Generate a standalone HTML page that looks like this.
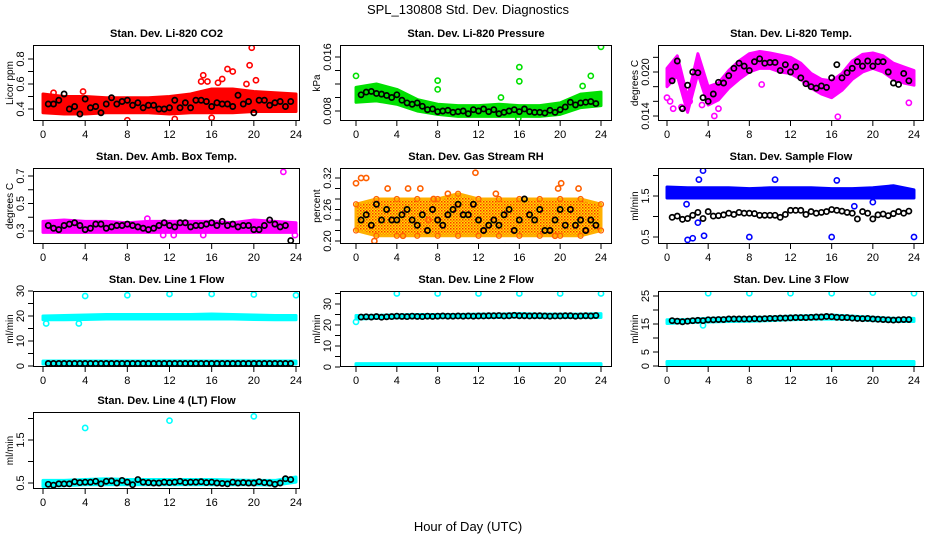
<!DOCTYPE html>
<html><head><meta charset="utf-8">
<style>
html,body{margin:0;padding:0;background:#fff;}
svg{display:block;font-family:"Liberation Sans",Arial,sans-serif;}
.t{font-weight:bold;font-size:11px;text-anchor:middle;}
.tk{font-size:11px;text-anchor:middle;}
.yl{font-size:10px;text-anchor:middle;}
</style></head>
<body>
<svg id="fig" width="936" height="540" viewBox="0 0 936 540">
<defs>
<pattern id="rhpat" width="3" height="3" patternUnits="userSpaceOnUse">
<rect width="3" height="3" fill="#ffe000"/>
<rect x="0" y="0" width="1.5" height="1.5" fill="#ff3000"/>
<rect x="1.5" y="1.5" width="1.5" height="1.5" fill="#ff8000"/>
</pattern>
</defs>
<text x="468" y="14" font-size="13" text-anchor="middle">SPL_130808  Std. Dev. Diagnostics</text>
<text x="468" y="531" font-size="13" text-anchor="middle">Hour of Day (UTC)</text>
</svg>
<script>
// ---- data ----
const bandH = [0,2,4,6,8,10,12,14,16,18,20,22,24];
const tempH = [0,1,2,3,4,5,6,7,8,9,10,11,12,13,14,15,16,17,18,19,20,21,22,23,24];

const co2Lo = [0.37,0.36,0.36,0.37,0.37,0.37,0.36,0.37,0.37,0.37,0.38,0.38,0.38];
const co2Hi = [0.52,0.50,0.50,0.49,0.49,0.49,0.50,0.52,0.56,0.56,0.54,0.53,0.52];
const co2OutH = [1,3.8,8,12.5,15,15.2,15.6,16,16.6,17,17.5,18,19.3,19.6,19.8,20.2];
const co2OutV = [0.53,0.54,0.31,0.32,0.62,0.67,0.62,0.33,0.61,0.64,0.72,0.70,0.60,0.75,0.89,0.63];
const co2Blk = [0.44,0.44,0.47,0.52,0.40,0.42,0.36,0.48,0.41,0.42,0.37,0.44,0.49,0.44,0.46,0.47,0.43,0.45,0.41,0.43,0.43,0.40,0.40,0.41,0.47,0.41,0.45,0.41,0.47,0.47,0.46,0.42,0.45,0.44,0.44,0.42,0.51,0.44,0.46,0.37,0.47,0.47,0.43,0.45,0.46,0.42,0.46];

const prLo = [0.0093,0.0095,0.0090,0.0080,0.0075,0.0072,0.0072,0.0072,0.0072,0.0072,0.0075,0.0085,0.0088];
const prHi = [0.0115,0.0120,0.0112,0.0097,0.0090,0.0088,0.0088,0.0090,0.0088,0.0088,0.0092,0.0105,0.0108];
const prOutH = [0,4,8,8,12,14.2,16,16,20,22.2,23,24,15.9];
const prOutV = [0.0132,0.0185,0.0125,0.0112,0.0185,0.0100,0.0145,0.0124,0.0185,0.0117,0.0132,0.0175,0.0069];
const prBlk = [0.0104,0.0108,0.0109,0.0106,0.0105,0.0103,0.0100,0.0104,0.0096,0.0092,0.0090,0.0092,0.0087,0.0082,0.0083,0.0079,0.0080,0.0081,0.0078,0.0079,0.0080,0.0076,0.0082,0.0080,0.0083,0.0079,0.0082,0.0076,0.0078,0.0080,0.0082,0.0079,0.0083,0.0079,0.0078,0.0078,0.0077,0.0081,0.0078,0.0082,0.0086,0.0093,0.0089,0.0092,0.0093,0.0094,0.0091];

const tpLo = [0.0180,0.0195,0.0145,0.0198,0.0155,0.0162,0.0178,0.0190,0.0200,0.0205,0.0205,0.0200,0.0198,0.0190,0.0178,0.0170,0.0165,0.0175,0.0190,0.0200,0.0205,0.0200,0.0190,0.0185,0.0182];
const tpHi = [0.0205,0.0222,0.0165,0.0225,0.0180,0.0185,0.0202,0.0215,0.0225,0.0228,0.0226,0.0223,0.0220,0.0212,0.0198,0.0190,0.0188,0.0198,0.0215,0.0224,0.0226,0.0222,0.0212,0.0207,0.0202];
const tpOutH = [0,0.3,0.6,1.4,2.2,3.4,4.6,5,9.2,16.6,23.5];
const tpOutV = [0.0165,0.0160,0.0150,0.0152,0.0160,0.0155,0.0140,0.0150,0.0183,0.0139,0.0158];
const tpBlk = [0.0188,0.0215,0.0150,0.0182,0.0200,0.0199,0.0165,0.0160,0.0170,0.0186,0.0185,0.0195,0.0205,0.0212,0.0208,0.0202,0.0214,0.0218,0.0212,0.0213,0.0213,0.0202,0.0210,0.0200,0.0207,0.0192,0.0184,0.0180,0.0178,0.0181,0.0179,0.0192,0.0210,0.0192,0.0199,0.0205,0.0214,0.0208,0.0215,0.0208,0.0214,0.0214,0.0200,0.0185,0.0183,0.0198,0.0188];

const abLo = [0.29,0.29,0.29,0.29,0.29,0.29,0.29,0.29,0.29,0.29,0.29,0.29,0.29];
const abHi = [0.37,0.38,0.37,0.37,0.36,0.37,0.37,0.37,0.37,0.36,0.38,0.37,0.36];
const abOutH = [9.9,11.4,12.4,15.2,22.8,23.9];
const abOutV = [0.39,0.27,0.27,0.27,0.73,0.27];
const abBlk = [0.34,0.32,0.31,0.34,0.35,0.36,0.34,0.31,0.32,0.35,0.35,0.32,0.33,0.34,0.34,0.35,0.34,0.33,0.32,0.31,0.32,0.34,0.36,0.34,0.33,0.36,0.36,0.33,0.34,0.34,0.35,0.36,0.34,0.37,0.34,0.35,0.33,0.34,0.34,0.31,0.31,0.34,0.38,0.35,0.33,0.34,0.23];

const rhLo = [0.22,0.21,0.21,0.21,0.21,0.21,0.21,0.21,0.21,0.21,0.21,0.21,0.22];
const rhHi = [0.27,0.28,0.28,0.28,0.28,0.29,0.28,0.28,0.28,0.28,0.28,0.28,0.27];
const rhOutH = [0,0.5,1,1.8,3.1,4.6,5.1,6.3,7.1,7.6,9,11.7,13.7,14.6,19.5,19.8,20.1,21.8,22.6];
const rhOutV = [0.31,0.32,0.32,0.20,0.30,0.21,0.30,0.30,0.24,0.28,0.29,0.33,0.29,0.19,0.21,0.30,0.31,0.30,0.22];
const rhBlk = [0.24,0.25,0.23,0.27,0.24,0.26,0.24,0.24,0.25,0.26,0.24,0.23,0.25,0.22,0.26,0.24,0.23,0.25,0.26,0.27,0.25,0.25,0.27,0.24,0.22,0.23,0.24,0.23,0.25,0.26,0.22,0.24,0.28,0.25,0.24,0.26,0.22,0.22,0.24,0.26,0.23,0.26,0.23,0.24,0.22,0.24,0.23];

const sfLo = [1.45,1.45,1.45,1.45,1.45,1.45,1.45,1.45,1.45,1.45,1.45,1.45,1.45];
const sfHi = [1.72,1.70,1.70,1.70,1.68,1.70,1.70,1.70,1.68,1.68,1.70,1.75,1.65];
const sfOutH = [2,2.5,3,3.1,3.5,3.6,8,10.5,16,16.5,1.9,20,24,18.2];
const sfOutV = [0.43,0.47,0.85,1.9,2.12,0.53,0.5,1.9,0.5,1.88,1.3,1.35,0.5,1.25];
const sfBlk = [0.98,1.01,0.93,0.95,1.03,1.10,0.95,1.12,1.01,1.02,1.04,1.08,1.05,1.10,1.08,1.08,1.07,1.03,1.03,1.03,1.03,0.98,1.05,1.15,1.15,1.15,1.05,1.12,1.08,1.10,1.12,1.17,1.15,1.13,1.10,1.08,0.94,1.12,1.08,0.94,1.04,1.06,1.02,1.07,1.12,1.08,1.13];

const l1Lo = [18.5,18.5,18.6,18.8,18.8,18.8,18.8,18.8,18.8,18.8,18.6,18.5,18.5];
const l1Hi = [20.0,20.2,20.4,20.6,20.6,20.6,20.6,20.6,20.8,20.6,20.4,20.2,20.2];
const l1Lo2 = [0.8,0.8,0.8,0.8,0.8,0.8,0.8,0.8,0.8,0.8,0.8,0.8,0.8];
const l1Hi2 = [2.0,2.0,2.0,2.0,2.0,2.0,2.0,2.0,2.0,2.0,2.0,2.0,2.0];
const l1OutH = [4,8,12,16,20,24,0.3,3.4];
const l1OutV = [28,28.3,28.8,28.8,28.6,28.3,17,17];
const l1Blk = [1,1,1,1,1,1,1,1,1,1,1,1,1,1,1,1,1,1,1,1,1,1,1,1,1,1,1,1,1,1,1,1,1,1,1,1,1,1,1,1,1,1,1,1,1,1,1];

const l2Lo = [22.8,23.2,23.4,23.5,23.5,23.6,23.6,23.6,23.8,23.6,23.6,23.6,23.6];
const l2Hi = [24.5,24.6,24.8,25.0,25.0,25.0,25.2,25.2,25.4,25.2,25.2,25.2,25.4];
const l2Lo2 = [0.5,0.5,0.5,0.5,0.5,0.5,0.5,0.5,0.5,0.5,0.5,0.5,0.5];
const l2Hi2 = [1.6,1.6,1.6,1.6,1.6,1.6,1.6,1.6,1.6,1.6,1.6,1.6,1.6];
const l2OutH = [4,8,12,16,20,24,0];
const l2OutV = [35,35,35,35,35,35,21.5];
const l2Blk = [23.8,23.9,23.8,24.0,23.7,23.9,24.0,24.2,24.1,24.0,24.2,24.1,24.0,24.2,24.1,24.2,24.3,24.2,24.2,24.3,24.2,24.3,24.2,24.3,24.3,24.4,24.4,24.5,24.3,24.4,24.6,24.4,24.4,24.3,24.4,24.4,24.3,24.2,24.3,24.3,24.4,24.4,24.2,24.3,24.4,24.3,24.5];

const l3Lo = [15.2,15.5,15.7,15.9,16.0,16.2,16.5,16.7,16.8,16.6,16.2,15.9,15.9];
const l3Hi = [16.5,16.6,17.0,17.2,17.3,17.5,17.8,18.0,18.2,17.8,17.4,17.0,17.0];
const l3Lo2 = [0.5,0.5,0.5,0.5,0.5,0.5,0.5,0.5,0.5,0.5,0.5,0.5,0.5];
const l3Hi2 = [1.6,1.6,1.6,1.6,1.6,1.6,1.6,1.6,1.6,1.6,1.6,1.6,1.6];
const l3OutH = [4,8,12,16,20,24,3.5];
const l3OutV = [26,26,26,26,26.2,26,14.5];
const l3Blk = [16.2,16.0,15.8,16.0,16.2,16.3,16.2,16.5,16.5,16.6,16.6,16.8,16.8,16.8,16.8,16.8,16.9,16.8,16.9,17.0,17.0,17.1,17.1,17.2,17.3,17.3,17.3,17.4,17.5,17.5,17.7,17.6,17.4,17.3,17.3,17.1,17.0,16.9,17.0,16.8,16.7,16.6,16.5,16.4,16.5,16.6,16.6];

const l4Lo = [0.42,0.44,0.46,0.46,0.46,0.46,0.46,0.46,0.46,0.46,0.46,0.45,0.52];
const l4Hi = [0.56,0.56,0.58,0.60,0.58,0.58,0.58,0.58,0.58,0.57,0.56,0.56,0.64];
const l4OutH = [4,12,20];
const l4OutV = [1.78,1.95,2.05];
const l4Blk = [0.47,0.45,0.48,0.48,0.48,0.53,0.51,0.52,0.52,0.54,0.48,0.54,0.55,0.50,0.56,0.52,0.46,0.58,0.52,0.51,0.50,0.50,0.52,0.51,0.52,0.54,0.51,0.52,0.52,0.53,0.51,0.52,0.50,0.49,0.48,0.52,0.50,0.51,0.50,0.50,0.53,0.51,0.50,0.47,0.50,0.60,0.58];

// ---- layout (non-data) ----
const COLS = [{l:33,r:300,x0:43,x24:296},{l:340,r:612,x0:356,x24:601},{l:658,r:924,x0:667,x24:914}];
const ROWS = [{t:45,b:121},{t:168,b:244},{t:291,b:367},{t:412,b:489}];

const panels = [
 {name:'co2',title:'Stan. Dev. Li-820 CO2',ylab:'Licor ppm',c:0,r:0,v0:0.4,p0:109,v1:0.8,p1:59,ticks:[0.4,0.5,0.6,0.7,0.8],labs:['0.4','0.6','0.8'],col:'#ff0000',lo:co2Lo,hi:co2Hi,oh:co2OutH,ov:co2OutV,blk:co2Blk},
 {name:'pressure',title:'Stan. Dev. Li-820 Pressure',ylab:'kPa',c:1,r:0,v0:0.008,p0:111,v1:0.016,p1:57,ticks:[0.008,0.010,0.012,0.014,0.016],labs:['0.008','0.016'],col:'#00e000',lo:prLo,hi:prHi,oh:prOutH,ov:prOutV,blk:prBlk},
 {name:'temp',title:'Stan. Dev. Li-820 Temp.',ylab:'degrees C',c:2,r:0,v0:0.014,p0:116,v1:0.020,p1:72,ticks:[0.014,0.016,0.018,0.020,0.022],labs:['0.014','0.020'],col:'#ff00ff',lo:tpLo,hi:tpHi,bh:tempH,oh:tpOutH,ov:tpOutV,blk:tpBlk},
 {name:'amb-box-temp',title:'Stan. Dev. Amb. Box Temp.',ylab:'degrees C',c:0,r:1,v0:0.3,p0:231,v1:0.7,p1:176,ticks:[0.3,0.4,0.5,0.6,0.7],labs:['0.3','0.5','0.7'],col:'#ff00ff',lo:abLo,hi:abHi,oh:abOutH,ov:abOutV,blk:abBlk},
 {name:'gas-stream-rh',title:'Stan. Dev. Gas Stream RH',ylab:'percent',c:1,r:1,v0:0.20,p0:241,v1:0.32,p1:178,ticks:[0.20,0.22,0.24,0.26,0.28,0.30,0.32],labs:['0.20','0.26','0.32'],col:'#ffb000',fillUrl:'url(#rhpat)',edge:'#ff6000',lo:rhLo,hi:rhHi,oh:rhOutH,ov:rhOutV,blk:rhBlk},
 {name:'sample-flow',title:'Stan. Dev. Sample Flow',ylab:'ml/min',c:2,r:1,v0:0.5,p0:237,v1:1.5,p1:196,ticks:[0.5,1.0,1.5,2.0],labs:['0.5','1.5'],col:'#0000ff',lo:sfLo,hi:sfHi,oh:sfOutH,ov:sfOutV,blk:sfBlk},
 {name:'line1-flow',title:'Stan. Dev. Line 1 Flow',ylab:'ml/min',c:0,r:2,v0:0,p0:366,v1:30,p1:291,ticks:[0,5,10,15,20,25,30],labs:['0','10','20','30'],col:'#00ffff',lo:l1Lo,hi:l1Hi,lo2:l1Lo2,hi2:l1Hi2,oh:l1OutH,ov:l1OutV,blk:l1Blk},
 {name:'line2-flow',title:'Stan. Dev. Line 2 Flow',ylab:'ml/min',c:1,r:2,v0:0,p0:367,v1:30,p1:304,ticks:[0,5,10,15,20,25,30,35],labs:['0','10','20','30'],col:'#00ffff',lo:l2Lo,hi:l2Hi,lo2:l2Lo2,hi2:l2Hi2,oh:l2OutH,ov:l2OutV,blk:l2Blk},
 {name:'line3-flow',title:'Stan. Dev. Line 3 Flow',ylab:'ml/min',c:2,r:2,v0:0,p0:366,v1:25,p1:296,ticks:[0,5,10,15,20,25],labs:['0','5','15','25'],col:'#00ffff',lo:l3Lo,hi:l3Hi,lo2:l3Lo2,hi2:l3Hi2,oh:l3OutH,ov:l3OutV,blk:l3Blk},
 {name:'line4-flow',title:'Stan. Dev. Line 4 (LT) Flow',ylab:'ml/min',c:0,r:3,v0:0.5,p0:483,v1:1.5,p1:440,ticks:[0.5,1.0,1.5,2.0],labs:['0.5','1.5'],col:'#00ffff',lo:l4Lo,hi:l4Hi,oh:l4OutH,ov:l4OutV,blk:l4Blk}
];
const xTicks = [0,4,8,12,16,20,24];

const NS='http://www.w3.org/2000/svg';
const svg=document.getElementById('fig');
function mk(tag,attrs,parent){const e=document.createElementNS(NS,tag);for(const k in attrs)e.setAttribute(k,attrs[k]);(parent||svg).appendChild(e);return e;}

panels.forEach(p=>{
  const C=COLS[p.c],R=ROWS[p.r];
  const g=mk('g',{});
  
  
  const clipId='clip-'+p.name;
  const cp=mk('clipPath',{id:clipId},g);mk('rect',{x:C.l,y:R.t,width:C.r-C.l,height:R.b-R.t},cp);
  const X=h=>C.x0+(C.x24-C.x0)*h/24;
  const Y=v=>p.p0+(p.p1-p.p0)*(v-p.v0)/(p.v1-p.v0);
  const plot=mk('g',{'clip-path':'url(#'+clipId+')'},g);
  const bh=p.bh||bandH;
  function band(lo,hi,nm){
    let d='';
    bh.forEach((h,i)=>{d+=(i?'L':'M')+X(h)+','+Y(hi[i]);});
    for(let i=bh.length-1;i>=0;i--)d+='L'+X(bh[i])+','+Y(lo[i]);
    const b=mk('path',{d:d+'Z',fill:p.fillUrl||p.col,stroke:p.col,'stroke-width':3,'stroke-linejoin':'round'},plot);
    
    
    if(p.edge){bh.forEach((h,i)=>{[lo[i],hi[i]].forEach(v=>{mk('circle',{cx:X(h),cy:Y(v),r:2.5,fill:'none',stroke:p.edge,'stroke-width':1.2},plot);});});}
  }
  band(p.lo,p.hi,p.name+'-band');
  if(p.lo2)band(p.lo2,p.hi2,p.name+'-low-band');
  p.oh.forEach((h,i)=>{
    const c=mk('circle',{cx:X(h),cy:Y(p.ov[i]),r:2.6,fill:'none',stroke:p.edge||p.col,'stroke-width':1.6},plot);
    
    
  });
  p.blk.forEach((v,i)=>{
    const h=0.5+i*0.5;
    const c=mk('circle',{cx:X(h),cy:Y(v),r:2.6,fill:'none',stroke:'#000','stroke-width':1.7},plot);
    
    
  });
  mk('rect',{x:C.l+0.5,y:R.t+0.5,width:C.r-C.l-1,height:R.b-R.t-1,fill:'none',stroke:'#000','stroke-width':1},g);
  xTicks.forEach(t=>{
    const x=X(t);
    mk('line',{x1:x,x2:x,y1:R.b,y2:R.b+5,stroke:'#000'},g);
    const tx=mk('text',{x:x,y:R.b+17,class:'tk'},g);tx.textContent=t;
    
    
  });
  p.ticks.forEach(t=>{
    const y=Y(t); if(y<R.t-1||y>R.b+1)return;
    mk('line',{x1:C.l-5,x2:C.l,y1:y,y2:y,stroke:'#000'},g);
  });
  p.labs.forEach(s=>{
    const y=Y(parseFloat(s));
    const tx=mk('text',{x:C.l-9,y:y,class:'tk',transform:'rotate(-90 '+(C.l-9)+' '+y+')'},g);tx.textContent=s;
    
    
  });
  const yl=mk('text',{x:C.l-20,y:(R.t+R.b)/2,class:'yl',transform:'rotate(-90 '+(C.l-20)+' '+((R.t+R.b)/2)+')'},g);yl.textContent=p.ylab;
  
  
  const tt=mk('text',{x:(C.l+C.r)/2,y:R.t-8,class:'t'},g);tt.textContent=p.title;
  
  
});
</script>
</body></html>
